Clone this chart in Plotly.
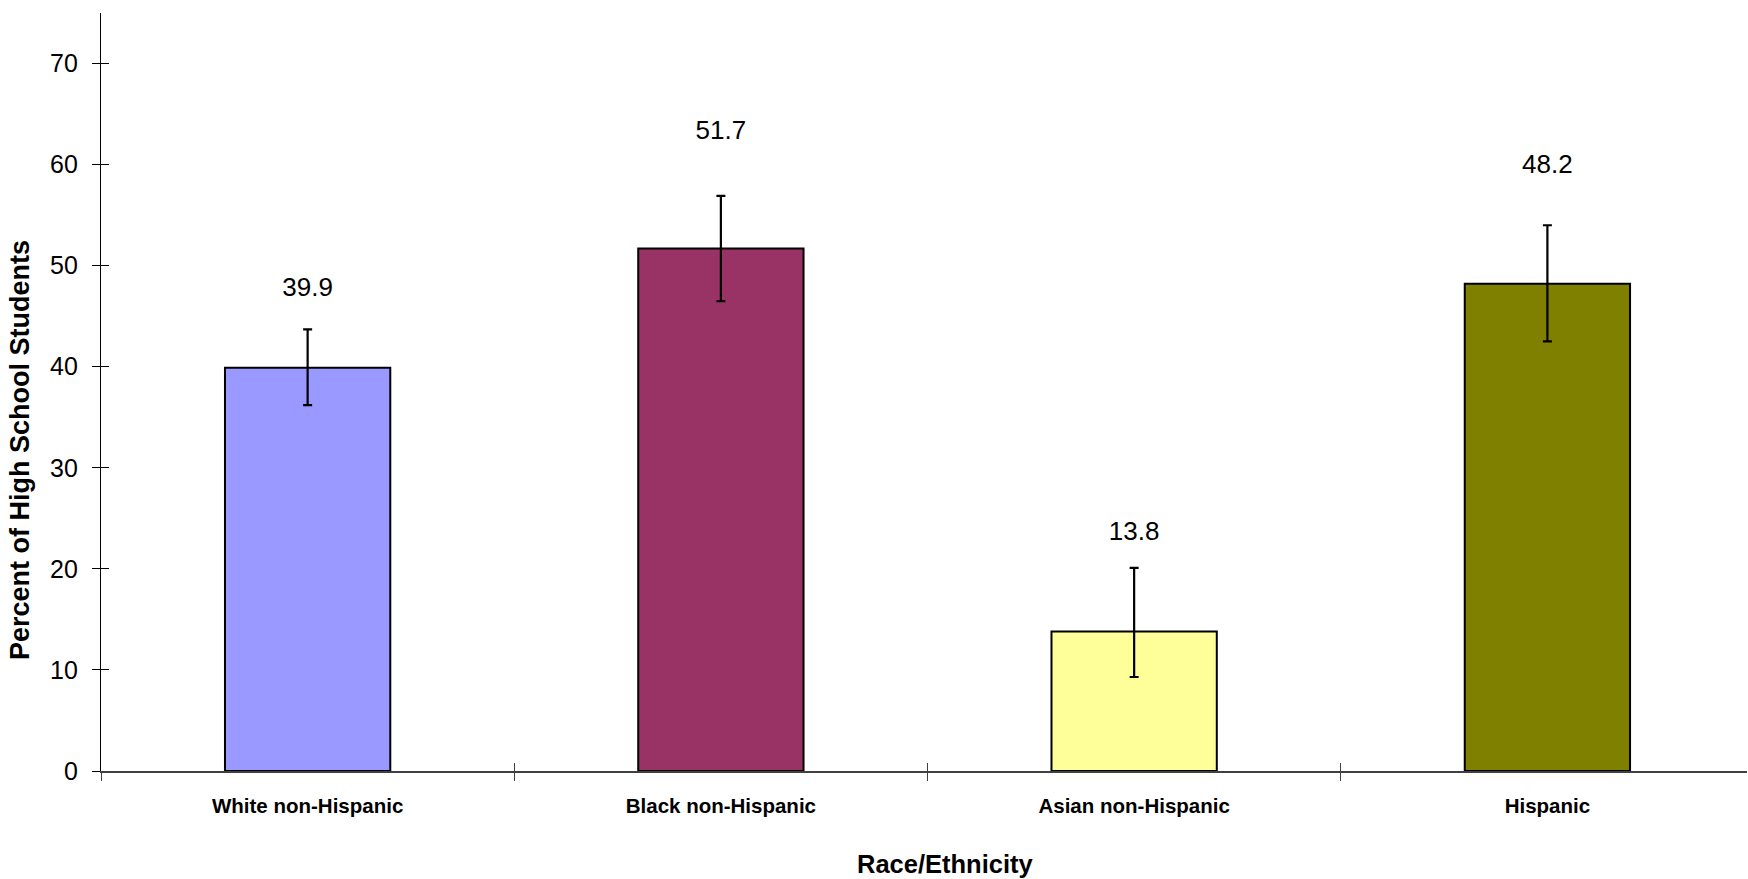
import plotly.graph_objects as go

categories = ["White non-Hispanic", "Black non-Hispanic", "Asian non-Hispanic", "Hispanic"]
values = [39.9, 51.7, 13.8, 48.2]
err_plus = [3.8, 5.2, 6.3, 5.8]
err_minus = [3.7, 5.2, 4.5, 5.7]
label_y = [47.6, 63.2, 23.5, 59.8]
colors = ["#9999FF", "#993366", "#FFFF99", "#808000"]
y_ticks = [0, 10, 20, 30, 40, 50, 60, 70]

W, H = 1748, 879
L, R, T, B = 101, 1, 13, 108
pw = W - L - R
ph = H - T - B
x_range = [-0.5, 3.483]

font = "Liberation Sans, Arial, sans-serif"

fig = go.Figure()
fig.add_trace(go.Bar(
    x=categories, y=values, width=0.4,
    marker=dict(color=colors, line=dict(color="black", width=2)),
    error_y=dict(type="data", symmetric=False, array=err_plus, arrayminus=err_minus,
                 color="black", thickness=2.2, width=4.5),
    showlegend=False, hoverinfo="x+y",
))
fig.add_trace(go.Scatter(
    x=categories, y=label_y, mode="text",
    text=[f"{v:.1f}" for v in values],
    textfont=dict(family=font, size=26, color="black"),
    showlegend=False, hoverinfo="skip",
))

fig.update_layout(
    width=W, height=H,
    margin=dict(l=L, r=R, t=T, b=B, pad=0),
    paper_bgcolor="white", plot_bgcolor="white",
    font=dict(family=font, color="black"),
    xaxis=dict(
        type="category", showgrid=False, zeroline=False,
        showline=True, linecolor="#404040", linewidth=1.5,
        ticks="outside", tickson="boundaries", ticklen=8, tickcolor="#404040", tickwidth=1.3,
        tickfont=dict(family=font, size=20.5, color="black", weight="bold"),
        ticklabelstandoff=16,
        range=x_range,
    ),
    xaxis2=dict(
        overlaying="x", anchor="y", type="linear", range=x_range,
        tickvals=[-0.5, 0.5, 1.5, 2.5], ticks="inside", ticklen=8,
        tickcolor="#404040", tickwidth=1.3, showticklabels=False,
        showgrid=False, zeroline=False, showline=False,
    ),
    yaxis=dict(
        range=[0, 75], tickvals=y_ticks, showgrid=False, zeroline=False,
        showline=True, linecolor="black", linewidth=1.3,
        ticks="outside", ticklen=8, tickcolor="black", tickwidth=1.3,
        tickfont=dict(family=font, size=25, color="black"),
        ticklabelstandoff=9,
    ),
    yaxis2=dict(
        overlaying="y", anchor="x", range=[0, 75], tickvals=y_ticks,
        ticks="inside", ticklen=8, tickcolor="black", tickwidth=1.3,
        showticklabels=False, showgrid=False, zeroline=False, showline=False,
    ),
    annotations=[
        dict(text="<b>Percent of High School Students</b>", xref="paper", yref="paper",
             x=(20 - L) / pw, y=(H - B - 450) / ph, xanchor="center", yanchor="middle",
             textangle=-90, showarrow=False, font=dict(family=font, size=27, color="black")),
        dict(text="<b>Race/Ethnicity</b>", xref="paper", yref="paper",
             x=(945 - L) / pw, y=(H - B - 864) / ph, xanchor="center", yanchor="middle",
             showarrow=False, font=dict(family=font, size=25.5, color="black")),
    ],
)
# invisible trace so the overlay axes (cross-tick halves) render
fig.add_trace(go.Scatter(x=[-0.5, 3.48], y=[0, 0], xaxis="x2", yaxis="y2", mode="lines",
                         line=dict(width=0), showlegend=False, hoverinfo="skip"))

fig.write_html(
    "out.html",
    config={"displayModeBar": False},
    post_script="document.body.style.margin='0';document.body.style.overflow='hidden';",
)
